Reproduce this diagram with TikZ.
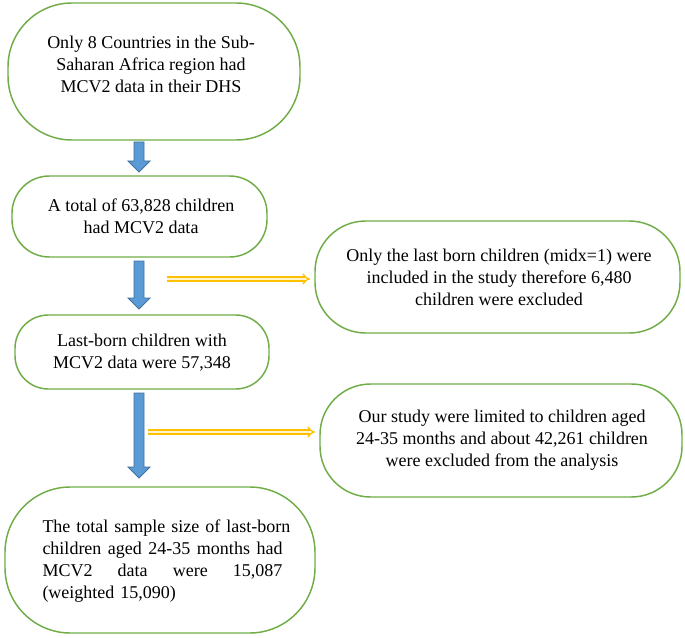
\documentclass[tikz,border=0pt]{standalone}
\usepackage{fontspec}
\setmainfont{Liberation Serif}
\usetikzlibrary{arrows.meta,calc}
\definecolor{boxgreen}{HTML}{70AD47}
\definecolor{arrblue}{HTML}{5B9BD5}
\definecolor{arrblueline}{HTML}{41719C}
\definecolor{arryel}{HTML}{FFC000}
\definecolor{arryelin}{HTML}{FFF2CC}
\newcommand\blockarr[2]{%
  \draw[blockarrow] let \p1=(#1), \p2=(#2) in
    (\x1-3.75pt,\y1) -- (\x1+3.75pt,\y1) -- (\x1+3.75pt,\y2+8.25pt) --
    (\x1+8.25pt,\y2+8.25pt) -- (\x2,\y2) -- (\x1-8.25pt,\y2+8.25pt) --
    (\x1-3.75pt,\y2+8.25pt) -- cycle;}
\begin{document}
\begin{tikzpicture}[x=0.75pt,y=-0.75pt,
  box/.style={draw=boxgreen, line width=1.1pt, fill=white, rectangle, inner sep=0pt},
  txt/.style={font=\fontsize{13.5}{16.5}\selectfont, align=center, inner sep=0pt},
  sidearrow/.style={draw=arryel, double=arryelin, line width=1pt, double distance=1.8pt, -{Implies}},
  blockarrow/.style={fill=arrblue, draw=arrblueline, line width=0.6pt}]
\useasboundingbox (0,0) rectangle (685,638);

% boxes
\node[box, rounded corners=48pt, minimum width=219pt, minimum height=102.75pt] (b1) at (154,71.5) {};
\node[txt] (t1) at (151,64) {Only 8 Countries in the Sub-\\Saharan Africa region had\\MCV2 data in their DHS};

\node[box, rounded corners=28pt, minimum width=191.25pt, minimum height=60.75pt] (b2) at (139.5,216.5) {};
\node[txt] (t2) at (141,216) {A total of 63,828 children\\had MCV2 data};

\node[box, rounded corners=38pt, minimum width=273.75pt, minimum height=84pt] (r1) at (497.5,277) {};
\node[txt] (tr1) at (499,277) {Only the last born children (midx=1) were\\included in the study therefore 6,480\\children were excluded};

\node[box, rounded corners=25pt, minimum width=190.5pt, minimum height=55.5pt] (b3) at (142,352) {};
\node[txt] (t3) at (142,353) {Last-born children with\\MCV2 data were 57,348};

\node[box, rounded corners=38pt, minimum width=271.5pt, minimum height=84.75pt] (r2) at (501,440.5) {};
\node[txt] (tr2) at (502,440) {Our study were limited to children aged\\24-35 months and about 42,261 children\\were excluded from the analysis};

\node[box, rounded corners=49pt, minimum width=232.5pt, minimum height=109.5pt] (b4) at (160,560) {};
\node[txt, align=left, text width=180pt] (t4) at (162.5,561) {%
\makebox[180pt][s]{The total sample size of last-born}\\
\makebox[180pt]{children\hfill aged\hfill 24-35\hfill months\hfill had}\\
\makebox[180pt]{MCV2\hfill data\hfill were\hfill 15,087}\\
(weighted 15,090)};

% blue block arrows
\coordinate (a1s) at (139,142); \coordinate (a1e) at (139,172);
\coordinate (a2s) at (139,261); \coordinate (a2e) at (139,309);
\coordinate (a3s) at (139,393); \coordinate (a3e) at (139,478);
\blockarr{a1s}{a1e}
\blockarr{a2s}{a2e}
\blockarr{a3s}{a3e}

% yellow side arrows
\coordinate (y1s) at (167,279); \coordinate (y1e) at (310,279);
\coordinate (y2s) at (148,432); \coordinate (y2e) at (315,432);
\draw[sidearrow] (y1s) -- (y1e);
\draw[sidearrow] (y2s) -- (y2e);
\end{tikzpicture}
\end{document}
